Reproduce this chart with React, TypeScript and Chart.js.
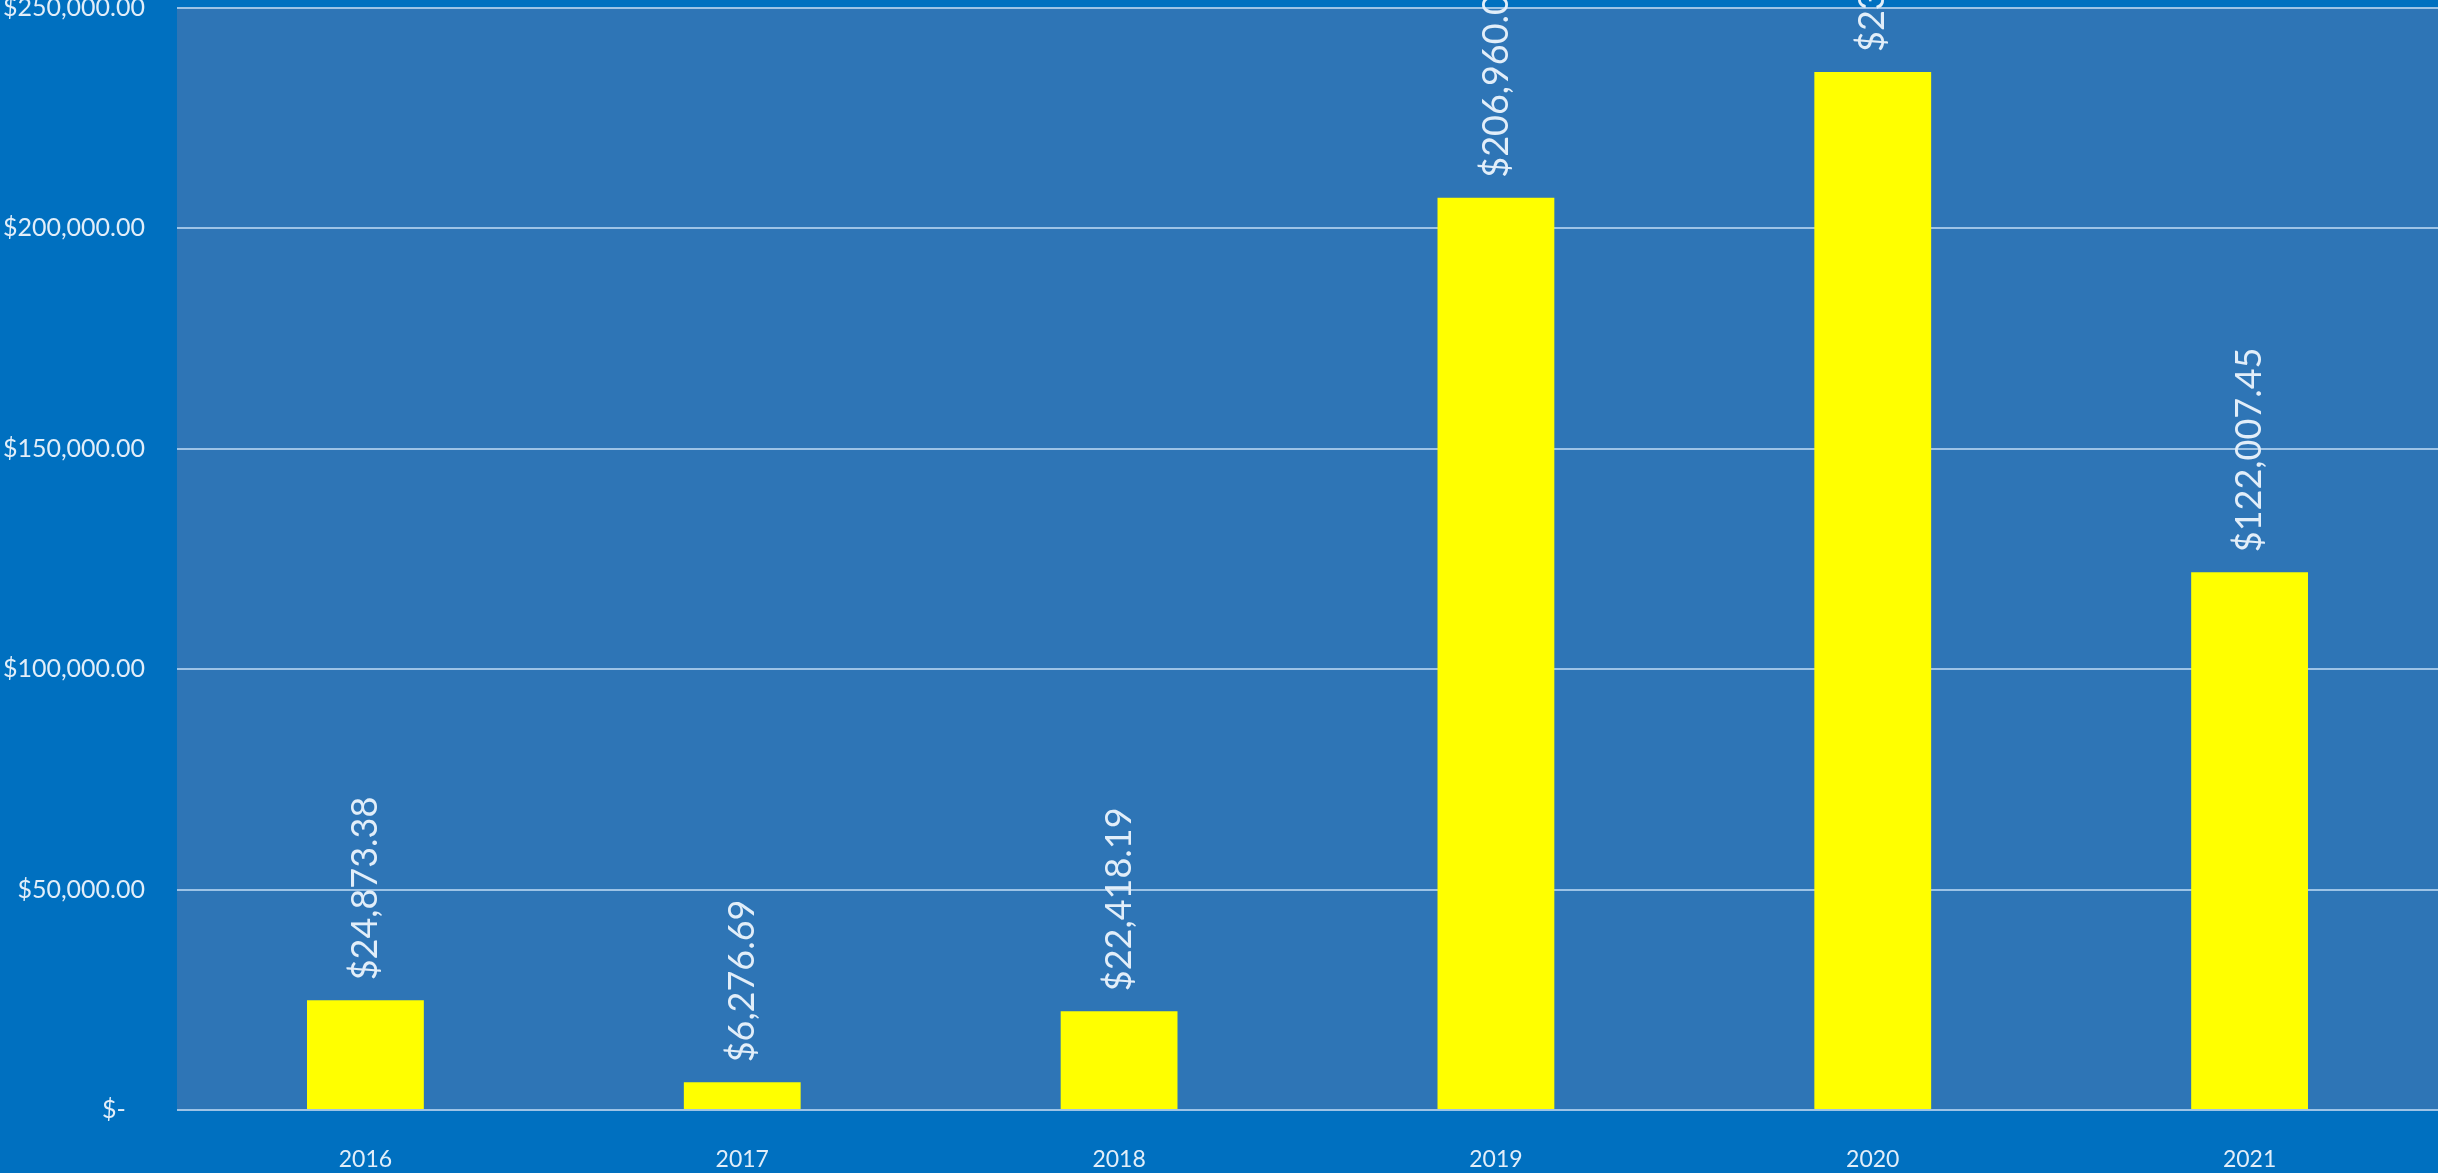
import React, { useEffect, useRef } from "react";
import { Chart, registerables } from "chart.js";

Chart.register(...registerables);

const categories = ["2016", "2017", "2018", "2019", "2020", "2021"];
const amounts = [24873.38, 6276.69, 22418.19, 206960.0, 235480.0, 122007.45];
const yTickValues = [0, 50000, 100000, 150000, 200000, 250000];

const OUTER_BG = "#0070C0";
const PLOT_BG = "#2E75B6";
const GRID = "#9DC3E6";
const TEXT = "#E2EEF9";
const BAR = "#FFFF00";
const FONT = "Lato";

function money(v: number): string {
  if (v === 0) return "$-   ";
  return "$" + v.toLocaleString("en-US", { minimumFractionDigits: 2, maximumFractionDigits: 2 });
}

const backgroundPlugin = {
  id: "bgPlugin",
  beforeDraw(chart: any) {
    const { ctx, chartArea } = chart;
    ctx.save();
    ctx.fillStyle = OUTER_BG;
    ctx.fillRect(0, 0, chart.width, chart.height);
    ctx.fillStyle = PLOT_BG;
    ctx.fillRect(chartArea.left, chartArea.top, chartArea.right - chartArea.left, chartArea.bottom - chartArea.top);
    ctx.restore();
  },
};

const labelPlugin = {
  id: "barLabels",
  afterDatasetsDraw(chart: any) {
    const { ctx } = chart;
    const meta = chart.getDatasetMeta(0);
    ctx.save();
    ctx.fillStyle = TEXT;
    ctx.font = `36px ${FONT}`;
    ctx.textAlign = "left";
    ctx.textBaseline = "middle";
    meta.data.forEach((el: any, i: number) => {
      ctx.save();
      ctx.translate(el.x, el.y - 20);
      ctx.rotate(-Math.PI / 2);
      ctx.fillText(money(amounts[i]), 0, 0);
      ctx.restore();
    });
    ctx.restore();
  },
};

export default function App() {
  const ref = useRef<HTMLCanvasElement | null>(null);
  useEffect(() => {
    if (!ref.current) return;
    const chart = new Chart(ref.current, {
      type: "bar",
      data: {
        labels: categories,
        datasets: [
          {
            data: amounts,
            backgroundColor: BAR,
            borderWidth: 0,
            categoryPercentage: 1,
            barPercentage: 0.31,
          },
        ],
      },
      options: {
        animation: false,
        responsive: false,
        devicePixelRatio: 1,
        layout: { padding: { top: 8, right: 0, left: 0, bottom: 0 } },
        plugins: {
          legend: { display: false },
          tooltip: { enabled: false },
        },
        scales: {
          x: {
            grid: { display: false },
            border: { display: false },
            ticks: {
              color: TEXT,
              font: { family: FONT, size: 23 },
              padding: 28,
              maxRotation: 0,
            },
            afterFit(scale: any) {
              scale.height = 63;
              scale.paddingLeft = 0;
              scale.paddingRight = 0;
            },
          },
          y: {
            min: 0,
            max: 250000,
            afterBuildTicks(scale: any) {
              scale.ticks = yTickValues.map((v) => ({ value: v }));
            },
            grid: { color: GRID, lineWidth: 2, drawTicks: false },
            border: { display: false },
            ticks: {
              color: TEXT,
              font: { family: FONT, size: 25 },
              padding: 32,
              callback: (v: any) => money(Number(v)),
            },
            afterFit(scale: any) {
              scale.width = 177;
              scale.paddingTop = 0;
              scale.paddingBottom = 0;
            },
          },
        },
      },
      plugins: [backgroundPlugin, labelPlugin],
    } as any);
    return () => chart.destroy();
  }, []);
  return (
    <div style={{ position: "fixed", left: 0, top: 0, width: 2438, height: 1173, background: OUTER_BG }}>
      <canvas ref={ref} width={2438} height={1173} style={{ display: "block", width: 2438, height: 1173 }} />
    </div>
  );
}
